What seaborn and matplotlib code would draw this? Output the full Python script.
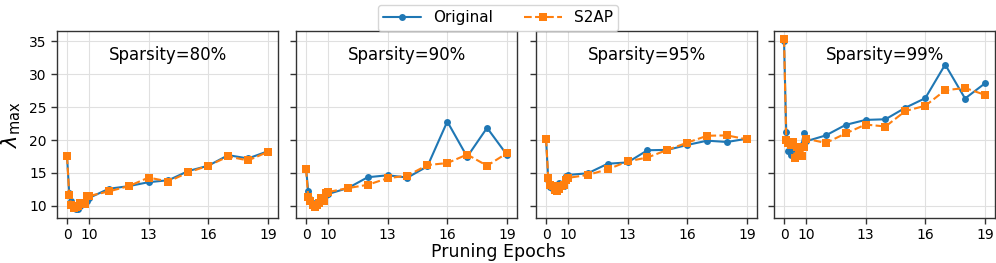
import numpy as np
import pandas as pd
import matplotlib
matplotlib.use("Agg")
import matplotlib.pyplot as plt
import seaborn as sns

epochs = list(range(20))
sparsities = ["80%", "90%", "95%", "99%"]

orig_80 = [17.5, 11.9, 10.7, 9.8, 9.5, 9.6, 10.0, 10.3, 10.5, 10.8, 11.2, 12.6, 13.0, 13.6, 13.9, 15.3, 16.1, 17.7, 17.2, 18.3]
s2ap_80 = [17.5, 11.6, 10.1, 9.7, 9.8, 10.0, 10.4, 10.5, 10.3, 11.5, 11.5, 12.2, 13.0, 14.3, 13.7, 15.1, 16.1, 17.5, 16.9, 18.2]
orig_90 = [15.7, 12.2, 11.0, 10.5, 10.0, 10.2, 10.6, 11.0, 11.5, 11.6, 11.8, 12.7, 14.35, 14.65, 14.3, 16.0, 22.8, 17.45, 21.85, 17.75]
s2ap_90 = [15.6, 11.3, 10.8, 10.2, 9.9, 10.1, 10.5, 11.2, 10.8, 12.0, 12.1, 12.7, 13.2, 14.2, 14.6, 16.2, 16.5, 17.8, 16.1, 18.0]
orig_95 = [20.2, 14.0, 12.9, 12.6, 12.5, 13.0, 13.5, 13.3, 13.0, 14.6, 14.7, 14.95, 16.4, 16.6, 18.45, 18.5, 19.25, 19.9, 19.7, 20.2]
s2ap_95 = [20.2, 14.3, 13.1, 13.0, 12.4, 12.3, 12.6, 13.0, 13.2, 14.0, 14.25, 14.7, 15.55, 16.75, 17.35, 18.5, 19.6, 20.65, 20.7, 20.1]
orig_99 = [35.0, 21.2, 18.3, 17.8, 18.6, 19.0, 18.5, 18.8, 19.2, 21.0, 19.8, 20.7, 22.3, 23.05, 23.15, 24.9, 26.35, 31.45, 26.3, 28.6]
s2ap_99 = [35.3, 20.0, 19.5, 19.3, 19.7, 17.2, 19.0, 18.5, 17.5, 19.0, 20.2, 19.55, 21.0, 22.35, 22.05, 24.4, 25.2, 27.55, 27.9, 26.85]

tick_epochs = [0, 10, 13, 16, 19]


def pos(e):
    # early epochs are compressed on the axis
    return e * 0.11 if e <= 10 else e - 8.9


originals = [orig_80, orig_90, orig_95, orig_99]
s2aps = [s2ap_80, s2ap_90, s2ap_95, s2ap_99]

sns.set_style("ticks")
plt.rcParams["font.family"] = ["DejaVu Sans"]
plt.rcParams["text.color"] = "black"
plt.rcParams["axes.labelcolor"] = "black"
plt.rcParams["xtick.labelcolor"] = "black"
plt.rcParams["ytick.labelcolor"] = "black"

fig = plt.figure(figsize=(9.96, 2.63), dpi=100)
lefts = [57, 296, 536, 774]
W, H = 996, 263
axes = []
for i, l in enumerate(lefts):
    ax = fig.add_axes([l / W, 1 - 217.7 / H, 221 / W, (217.7 - 30.7) / H],
                      sharey=axes[0] if axes else None)
    axes.append(ax)

blue = "#1f77b4"
orange = "#ff7f0e"
for i, ax in enumerate(axes):
    xs = [pos(e) for e in epochs]
    df = pd.DataFrame({"x": xs, "Original": originals[i], "S2AP": s2aps[i]})
    sns.lineplot(data=df, x="x", y="Original", ax=ax, color=blue, marker="o",
                 markersize=5, markeredgewidth=0, linewidth=1.5, label="Original")
    sns.lineplot(data=df, x="x", y="S2AP", ax=ax, color=orange, marker="s",
                 markersize=6, markeredgewidth=0, linewidth=1.5, linestyle="--",
                 label="S2AP")
    ax.legend_.remove()
    ax.set_xticks([pos(e) for e in tick_epochs])
    ax.set_xticklabels([str(e) for e in tick_epochs])
    ax.set_yticks([10, 15, 20, 25, 30, 35])
    ax.grid(True, color="#e0e0e0", linewidth=0.8)
    ax.set_axisbelow(True)
    ax.tick_params(labelsize=10, length=4, width=1, color="#333333",
                   labelcolor="black")
    for s in ax.spines.values():
        s.set_color("#333333")
        s.set_linewidth(1.0)
    ax.set_xlabel("")
    ax.set_ylabel("")
    if i > 0:
        ax.tick_params(labelleft=False)
    ax.text(0.5, 0.87, f"Sparsity={sparsities[i]}", transform=ax.transAxes,
            ha="center", va="center", fontsize=12, color="black")

axes[0].set_ylabel(r"$\lambda_{\max}$", fontsize=15, color="black")
fig.text(0.5, 0.04, "Pruning Epochs", ha="center", va="center", fontsize=12.5,
         color="black")

handles, labels = axes[0].get_legend_handles_labels()
leg = fig.legend(handles, labels, loc="upper center", bbox_to_anchor=(0.5, 1.01),
                 ncol=2, fontsize=11, frameon=True, columnspacing=2.0,
                 handlelength=2.5, borderpad=0.35)
for t in leg.get_texts():
    t.set_color("black")

fig.savefig("out.png", dpi=100)
